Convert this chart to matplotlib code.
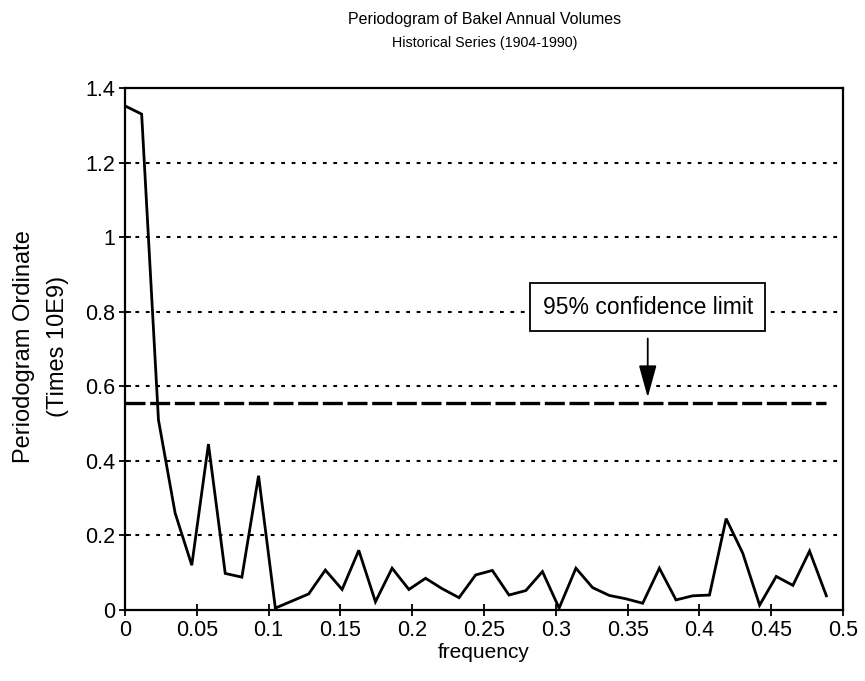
import matplotlib
matplotlib.use("Agg")
import matplotlib.pyplot as plt
from matplotlib.ticker import FuncFormatter, MultipleLocator

plt.rcParams['font.family'] = ['Liberation Sans', 'DejaVu Sans']

# ---- data ----
frequency = [0.0000, 0.0116, 0.0233, 0.0349, 0.0465, 0.0581, 0.0698, 0.0814,
             0.0930, 0.1047, 0.1163, 0.1279, 0.1395, 0.1512, 0.1628, 0.1744,
             0.1860, 0.1977, 0.2093, 0.2209, 0.2326, 0.2442, 0.2558, 0.2674,
             0.2791, 0.2907, 0.3023, 0.3140, 0.3256, 0.3372, 0.3488, 0.3605,
             0.3721, 0.3837, 0.3953, 0.4070, 0.4186, 0.4302, 0.4419, 0.4535,
             0.4651, 0.4767, 0.4884]
ordinate = [1.352, 1.330, 0.510, 0.260, 0.120, 0.445, 0.098, 0.088,
            0.360, 0.005, 0.024, 0.043, 0.107, 0.055, 0.160, 0.022,
            0.112, 0.055, 0.085, 0.057, 0.033, 0.094, 0.106, 0.040,
            0.052, 0.103, 0.005, 0.112, 0.060, 0.039, 0.030, 0.018,
            0.112, 0.027, 0.038, 0.040, 0.245, 0.152, 0.013, 0.090,
            0.066, 0.158, 0.038]
confidence_limit = 0.555
annotation_text = "95% confidence limit"
annotation_x = 0.364
title = "Periodogram of Bakel Annual Volumes"
subtitle = "Historical Series (1904-1990)"
xlabel = "frequency"
ylabel = "Periodogram Ordinate\n(Times 10E9)"

fig = plt.figure(figsize=(8.65, 6.81), dpi=100)
ax = fig.add_axes([0.1445, 0.1043, 0.8301, 0.7665])

# grid lines (dotted, horizontal only)
for g in [0.2, 0.4, 0.6, 0.8, 1.0, 1.2]:
    ax.axhline(g, color='black', lw=1.5, linestyle=(0, (1.8, 3.2)), zorder=1)

# confidence limit
ax.plot([frequency[0], frequency[-1]], [confidence_limit, confidence_limit],
        color='black', lw=2.4, linestyle=(0, (6, 1.4)), zorder=2)

# periodogram
ax.plot(frequency, ordinate, color='black', lw=2.0, zorder=3,
        solid_joinstyle='miter')

ax.set_xlim(0, 0.5)
ax.set_ylim(0, 1.4)
ax.xaxis.set_major_locator(MultipleLocator(0.05))
ax.yaxis.set_major_locator(MultipleLocator(0.2))
fmt = FuncFormatter(lambda v, p: ('%.2f' % v).rstrip('0').rstrip('.') if abs(v) > 1e-9 else '0')
ax.xaxis.set_major_formatter(fmt)
ax.yaxis.set_major_formatter(fmt)
ax.tick_params(direction='inout', length=8, width=1.3, labelsize=15.5, pad=3)

for s in ax.spines.values():
    s.set_linewidth(1.6)

ax.set_xlabel(xlabel, fontsize=15, labelpad=2)
ax.set_ylabel(ylabel, fontsize=17, linespacing=1.75, va='center')
ax.yaxis.set_label_coords(-0.117, 0.505)

fig.text(0.56, 0.972, title, ha='center', va='center', fontsize=11.5)
fig.text(0.56, 0.937, subtitle, ha='center', va='center', fontsize=10.3)

# annotation box and arrow
ax.text(annotation_x, 0.812, annotation_text, ha='center', va='center',
        fontsize=16.5,
        bbox=dict(boxstyle='square,pad=0.55', fc='white', ec='black', lw=1.3),
        zorder=5)
ax.annotate('', xy=(annotation_x, 0.570), xytext=(annotation_x, 0.728),
            arrowprops=dict(arrowstyle='-|>,head_length=2.0,head_width=0.55',
                            mutation_scale=10, lw=1.3, color='black',
                            shrinkA=0, shrinkB=0),
            zorder=5)

fig.savefig('out.png', dpi=100)
